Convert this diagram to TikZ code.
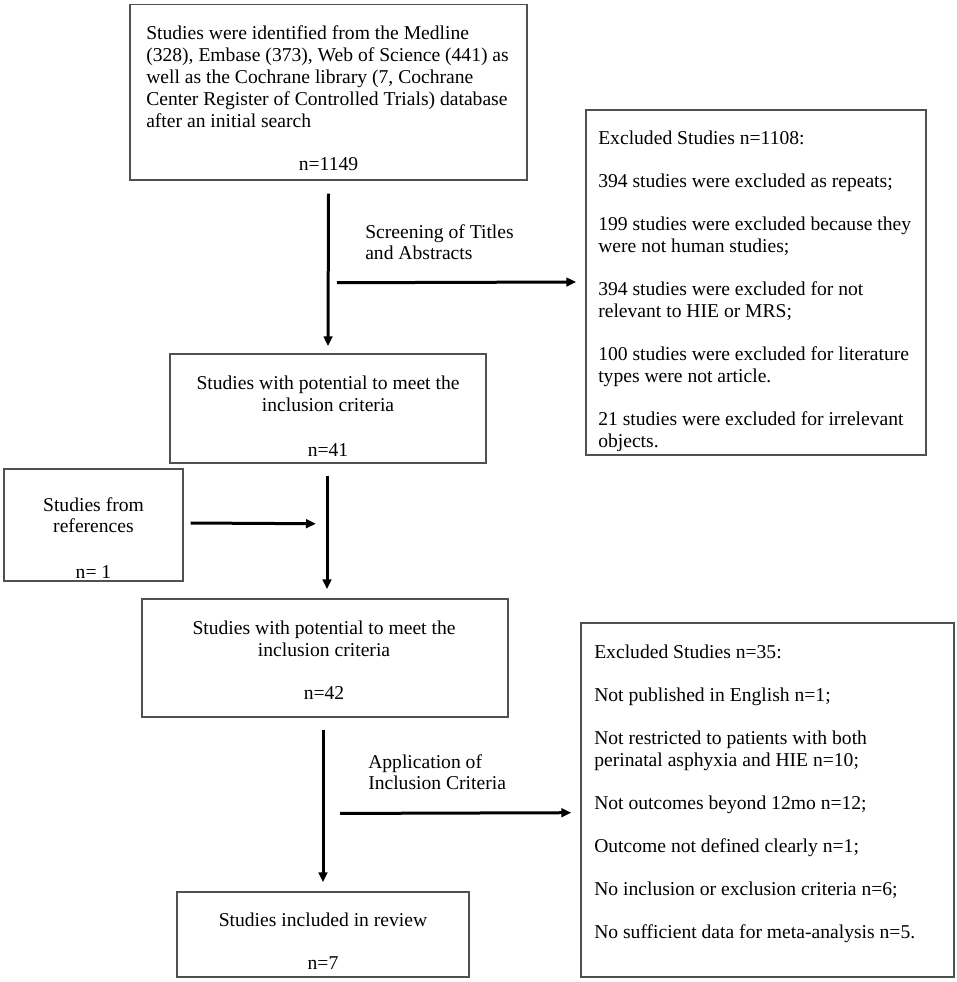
\documentclass[tikz,border=0pt]{standalone}
\usepackage{fontspec}
\setmainfont{Liberation Serif}
\usetikzlibrary{arrows.meta,calc,fit}
\definecolor{boxgray}{RGB}{80,80,80}
\begin{document}
\begin{tikzpicture}[x=0.75pt,y=-0.75pt,
  every node/.style={font=\fontsize{14.7pt}{16.5pt}\selectfont},
  box/.style={draw=boxgray,line width=1.1pt,inner sep=0pt,rectangle},
  txt/.style={inner sep=0pt,anchor=north west,align=left},
  ctxt/.style={inner sep=0pt,anchor=north,align=center},
  arr/.style={line width=2.25pt,-{Triangle[length=7.5pt,width=6.5pt]}}]
\useasboundingbox (0,0) rectangle (957,982);
% boxes
\node[box,fit={(130,4.7) (527,180)}] (b1) {};
\node[box,fit={(586,110) (926,455)}] (ex1) {};
\node[box,fit={(170,354) (486,463)}] (b2) {};
\node[box,fit={(4,469) (183,581)}] (refs) {};
\node[box,fit={(142,599) (508,717)}] (b3) {};
\node[box,fit={(177,892) (469,977)}] (b4) {};
\node[box,fit={(581,623) (954,977)}] (ex2) {};
% texts
\node[txt] (t1) at (146,25.5) {Studies were identified from the Medline\\(328), Embase (373), Web of Science (441) as\\well as the Cochrane library (7, Cochrane\\Center Register of Controlled Trials) database\\after an initial search};
\node[ctxt] (t1n) at (328.5,157.5) {n=1149};
\node[txt] (tex1) at (598,130.5) {Excluded Studies n=1108:\\[15.75pt]394 studies were excluded as repeats;\\[15.75pt]199 studies were excluded because they\\were not human studies;\\[15.75pt]394 studies were excluded for not\\relevant to HIE or MRS;\\[15.75pt]100 studies were excluded for literature\\types were not article.\\[15.75pt]21 studies were excluded for irrelevant\\objects.};
\node[txt] (tscr) at (365,224.5) {Screening of Titles\\[-0.75pt]and Abstracts};
\node[ctxt] (t2) at (328,375.5) {Studies with potential to meet the\\inclusion criteria\\[17.25pt]n=41};
\node[ctxt] (tref) at (93.5,497.5) {Studies from\\[-0.75pt]references\\[18pt]n= 1};
\node[ctxt] (t3) at (324,620.5) {Studies with potential to meet the\\inclusion criteria\\[15.75pt]n=42};
\node[txt] (tapp) at (368,754.5) {Application of\\[-0.75pt]Inclusion Criteria};
\node[ctxt] (t4) at (323,912.5) {Studies included in review\\[15.75pt]n=7};
\node[txt] (tex2) at (594,644.5) {Excluded Studies n=35:\\[15.75pt]Not published in English n=1;\\[15.75pt]Not restricted to patients with both\\perinatal asphyxia and HIE n=10;\\[15.75pt]Not outcomes beyond 12mo n=12;\\[15.75pt]Outcome not defined clearly n=1;\\[15.75pt]No inclusion or exclusion criteria n=6;\\[15.75pt]No sufficient data for meta-analysis n=5.};
% connectors
\coordinate (h1s) at ($(b1.south)+(8.5,102)$);
\coordinate (j2) at ($(b2.south)+(-1,60)$);
\coordinate (h2s) at ($(b3.south)+(15,95.7)$);
\draw[arr] ($(b1.south)+(0,13)$) -- ($(b2.north)+(0,-7)$);
\draw[arr] (h1s) -- ($(ex1.west)+(-9,-0.5)$);
\draw[arr] ($(b2.south)+(-1,12)$) -- ($(b3.north)+(2,-9)$);
\draw[arr] ($(refs.east)+(7,-2)$) -- ($(j2)+(-11,0)$);
\draw[arr] ($(b3.south)+(-2,12)$) -- ($(b4.north)+(0,-9)$);
\draw[arr] (h2s) -- ($(ex2.west)+(-9,12.7)$);
\end{tikzpicture}
\end{document}
